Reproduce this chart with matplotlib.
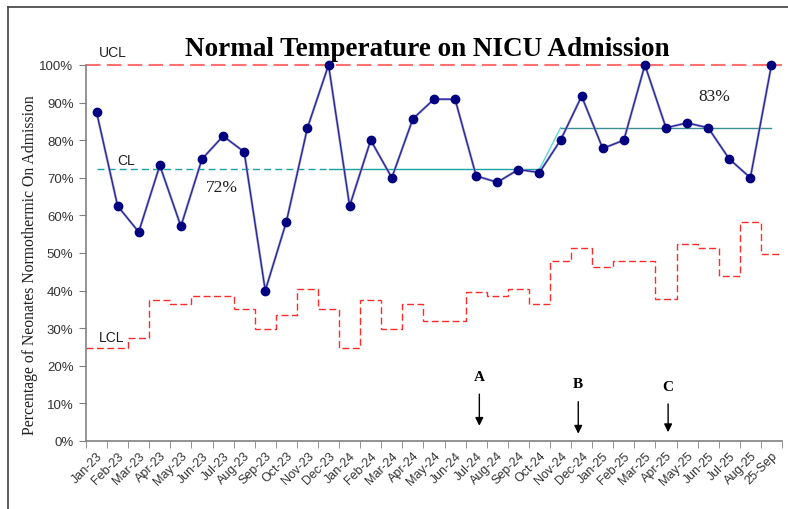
import numpy as np
import matplotlib.pyplot as plt
from matplotlib.lines import Line2D

months = ['Jan-23', 'Feb-23', 'Mar-23', 'Apr-23', 'May-23', 'Jun-23', 'Jul-23', 'Aug-23',
          'Sep-23', 'Oct-23', 'Nov-23', 'Dec-23', 'Jan-24', 'Feb-24', 'Mar-24', 'Apr-24',
          'May-24', 'Jun-24', 'Jul-24', 'Aug-24', 'Sep-24', 'Oct-24', 'Nov-24', 'Dec-24',
          'Jan-25', 'Feb-25', 'Mar-25', 'Apr-25', 'May-25', 'Jun-25', 'Jul-25', 'Aug-25',
          '25-Sep']

pct = [87.5, 62.5, 55.6, 73.3, 57.1, 75.0, 81.1, 76.9, 40.0, 58.3, 83.3, 100.0,
       62.5, 80.0, 70.0, 85.7, 90.9, 90.9, 70.5, 68.8, 72.2, 71.4, 80.0, 91.7,
       77.8, 80.0, 100.0, 83.3, 84.6, 83.3, 75.0, 70.0, 100.0]

lcl = [24.7, 24.7, 27.4, 37.5, 36.4, 38.6, 38.6, 35.1, 29.8, 33.5, 40.4, 35.1,
       24.7, 37.5, 29.8, 36.4, 31.8, 31.8, 39.5, 38.6, 40.5, 36.4, 48.0, 51.2,
       46.2, 48.0, 48.0, 37.8, 52.4, 51.2, 44.0, 58.3, 49.7]

ucl = 100.0
cl_phase1 = 72.3
cl_phase2 = 83.3
phase_break = 22  # first month of the second phase (Nov-24)

events = ['A', 'B', 'C']
event_pos = [18.15, 22.84, 27.1]

x = np.arange(len(months))
cl = np.where(x < phase_break, cl_phase1, cl_phase2)

fig = plt.figure(figsize=(7.88, 5.10), dpi=100)
ax = fig.add_axes([86 / 788, 1 - 442 / 510, 696 / 788, 376 / 510])

# control limits
ax.hlines(ucl, -0.5, len(months) - 0.5, color='#FF7070', lw=1.5, linestyle=(0, (7, 3)),
          clip_on=False, zorder=2)
ax.stairs(lcl, np.arange(len(months) + 1) - 0.5, baseline=None,
          color='#FF2A2A', lw=1.0, linestyle=(0, (5, 2.5)))

# centre line: dashed baseline, solid continuation, step to new phase
ax.plot(x[:12], cl[:12], color='#1AA3A3', lw=1.0, linestyle=(0, (5, 3)))
ax.plot(x[11:phase_break], cl[11:phase_break], color='#1AA3A3', lw=1.0)
ax.plot(x[phase_break - 1:phase_break + 1], cl[phase_break - 1:phase_break + 1],
        color='#60D6D6', lw=1.0)
ax.plot(x[phase_break:], cl[phase_break:], color='#3A8F8F', lw=1.0)

# data
ax.plot(x, pct, color='#8585CC', lw=1.7, zorder=3, clip_on=False)
ax.plot(x, pct, color='#1A1A8C', lw=0.7, zorder=3, clip_on=False)
ax.plot(x, pct, 'o', color='#000080', ms=6, zorder=4, clip_on=False)

ax.set_xlim(-0.5, len(months) - 0.5)
ax.set_ylim(0, 100)

ax.set_xticks(x)
ax.set_xticklabels(months, rotation=45, ha='right', rotation_mode='anchor',
                   fontsize=9, family='Liberation Sans', color='#333333')
ax.tick_params(axis='x', which='major', length=0, pad=6)
ax.set_xticks(np.arange(len(months) + 1) - 0.5, minor=True)
ax.tick_params(axis='x', which='minor', length=5, color='#808080', direction='out')

ax.set_yticks(np.arange(0, 101, 10))
ax.set_yticklabels([f'{v}%' for v in range(0, 101, 10)], fontsize=9.5,
                   family='Liberation Sans', color='#333333')
ax.tick_params(axis='y', length=5, color='#808080', direction='out', pad=4)

for s in ['top', 'right']:
    ax.spines[s].set_visible(False)
for s in ['left', 'bottom']:
    ax.spines[s].set_color('#808080')
    ax.spines[s].set_linewidth(1.2)

# labels on the chart
ax.text(0.1, ucl + 2.5, 'UCL', fontsize=10, family='Liberation Sans', color='#202020')
ax.text(1.0, cl_phase1 + 1.5, 'CL', fontsize=10, family='Liberation Sans', color='#202020')
ax.text(0.1, 26.5, 'LCL', fontsize=10, family='Liberation Sans', color='#202020')
ax.text(5.2, cl_phase1 - 5.8, f'{cl_phase1:.0f}%', fontsize=12.5, family='Liberation Serif',
        color='#202020')
ax.text(28.55, cl_phase2 + 7.4, f'{cl_phase2:.0f}%', fontsize=12.5, family='Liberation Serif',
        color='#202020')

label_y = [17.1, 15.2, 14.4]
arrow_top = [13.2, 11.2, 10.6]
arrow_tip = [3.3, 1.2, 1.6]
for name, xp, ly, at, tip in zip(events, event_pos, label_y, arrow_top, arrow_tip):
    ax.text(xp, ly, name, ha='center', va='center', fontsize=11, fontweight='bold',
            family='Liberation Serif')
    ax.annotate('', xy=(xp, tip), xytext=(xp, at),
                arrowprops=dict(arrowstyle='-|>', color='black', lw=1.0, mutation_scale=12))

fig.text(427 / 788, 1 - 50 / 510, 'Normal Temperature on NICU Admission', ha='center',
         va='center', fontsize=19.5, fontweight='bold', family='Liberation Serif')
fig.text(30 / 788, 1 - 265 / 510, 'Percentage of Neonates Normothermic On Admission',
         rotation=90, ha='center', va='center', fontsize=11.3, family='Liberation Serif',
         color='#202020')

# border lines of the cropped frame
fig.add_artist(Line2D([8 / 788, 1], [1 - 8 / 510, 1 - 8 / 510], color='#404040', lw=1.2))
fig.add_artist(Line2D([8 / 788, 8 / 788], [0, 1 - 8 / 510], color='#404040', lw=1.2))

fig.savefig('out.png', dpi=100)
